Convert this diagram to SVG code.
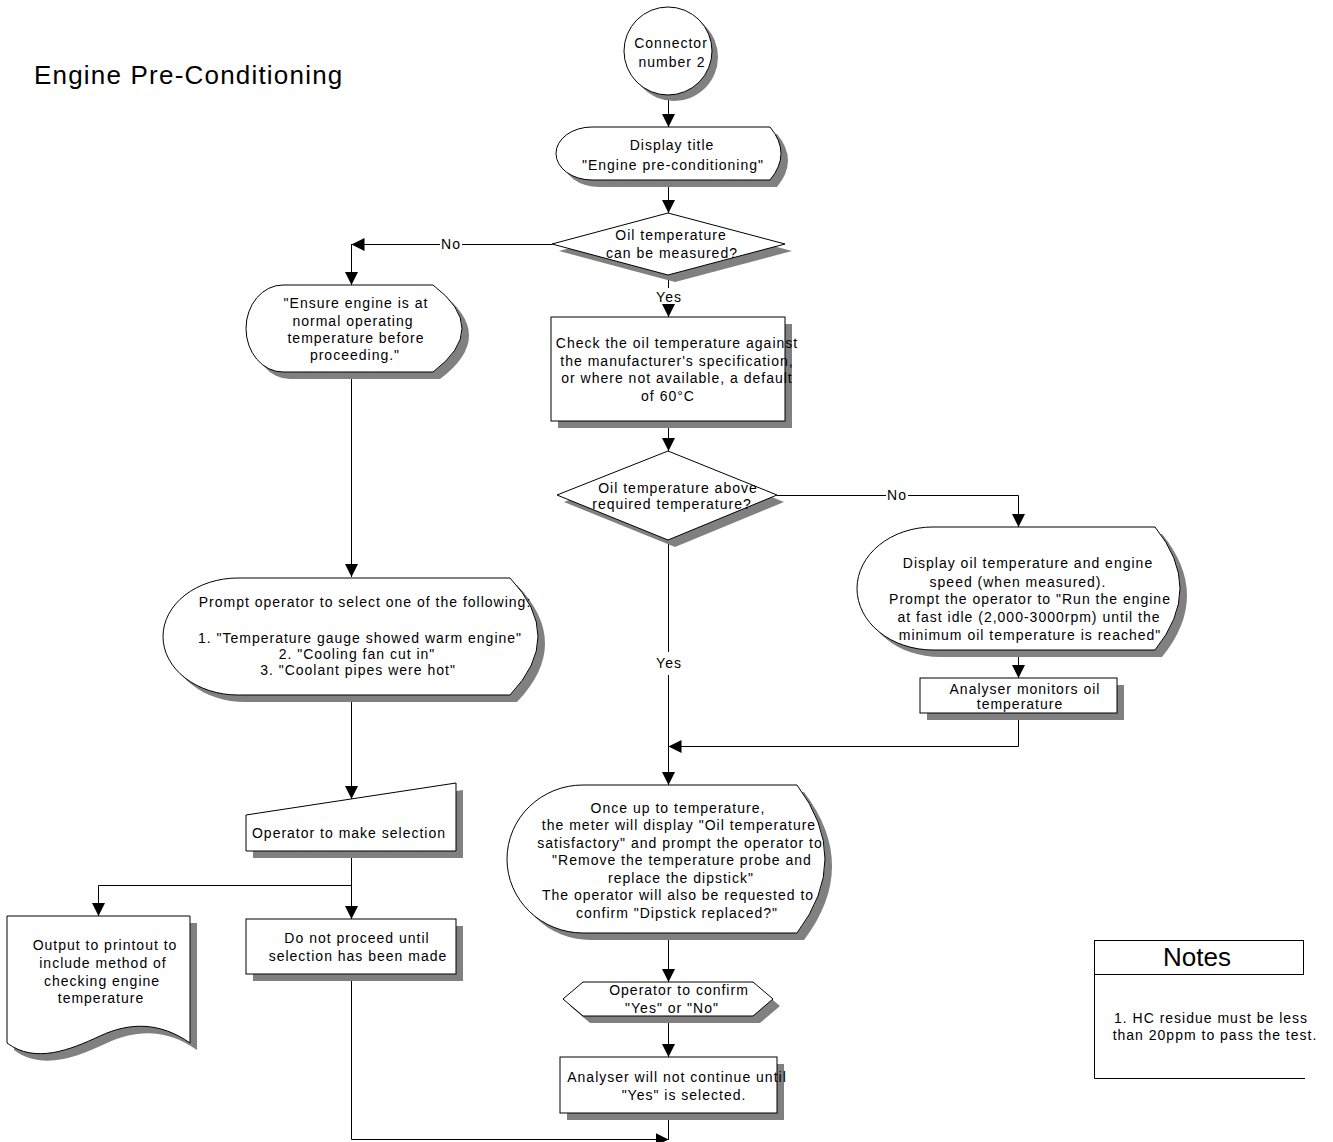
<svg xmlns="http://www.w3.org/2000/svg" xmlns:xlink="http://www.w3.org/1999/xlink" width="1333" height="1142" viewBox="0 0 1333 1142">
  <style>
    .shape { fill: #fff; stroke: #000; stroke-width: 1; }
    .shadow { fill: #808080; stroke: none; }
    .wire { fill: none; stroke: #000; stroke-width: 1; }
    .arrow { marker-end: url(#ah); }
    text { font-family: "Liberation Sans", Arial, sans-serif; font-size: 14px; letter-spacing: 1px; fill: #000; text-anchor: middle; }
    .title { font-size: 26px; letter-spacing: 1.2px; text-anchor: start; }
    .notes-h { font-size: 26px; letter-spacing: 0; }
  </style>
  <defs>
    <marker id="ah" markerWidth="13" markerHeight="13" refX="13" refY="6.5" orient="auto" markerUnits="userSpaceOnUse">
      <path d="M0,0 L13,6.5 L0,13 Z" fill="#000"/>
    </marker>
    <circle id="p-conn" cx="668" cy="51" r="44"/>
    <path id="p-title" d="M592,127 L770,127 Q792,153.5 770,180 L592,180 A36,26.5 0 0 1 592,127 Z"/>
    <path id="p-dec1" d="M668,213 L785,244 L668,275 L552,244 Z"/>
    <rect id="p-check" x="551" y="317" width="234" height="104"/>
    <path id="p-dec2" d="M668,451 L777,495 L668,540 L557,495 Z"/>
    <path id="p-dispoil" d="M933,527 L1155,527 Q1205,588.5 1155,650 L933,650 A76,61.5 0 0 1 933,527 Z"/>
    <rect id="p-monitor" x="920" y="678" width="197" height="35"/>
    <path id="p-once" d="M583,785 L797,785 Q853,859 797,933 L583,933 A76,74 0 0 1 583,785 Z"/>
    <path id="p-confirm" d="M583,982 L753,982 L773,999 L753,1016 L583,1016 L563,999 Z"/>
    <rect id="p-wait" x="560" y="1057" width="217" height="56"/>
    <path id="p-ensure" d="M283,285 L433,285 Q491,328.5 433,372 L283,372 A37,43.5 0 0 1 283,285 Z"/>
    <path id="p-prompt" d="M238,578 L510,578 Q566,636.5 510,695 L238,695 A75,58.5 0 0 1 238,578 Z"/>
    <path id="p-manual" d="M246,815 L456,783 L456,851 L246,851 Z"/>
    <rect id="p-noproceed" x="246" y="919" width="210" height="55"/>
    <path id="p-doc" d="M7,916 L190,916 L190,1043 C160,1022 130,1022 100,1036 C70,1050 35,1064 7,1043 Z"/>
  </defs>

  <rect width="1333" height="1142" fill="#fff"/>

  <text class="title" x="34" y="84">Engine Pre-Conditioning</text>

  <!-- connectors -->
  <g id="connectors">
    <path class="wire arrow" d="M668.5,95 L668.5,127"/>
    <path class="wire arrow" d="M668.5,180 L668.5,213"/>
    <path class="wire" d="M552,244.5 L462,244.5"/>
    <path class="wire arrow" d="M440,244.5 L351.5,244.5"/>
    <path class="wire arrow" d="M351.5,244 L351.5,285"/>
    <text x="451" y="249">No</text>
    <path class="wire" d="M668.5,275 L668.5,288"/>
    <text x="669" y="302">Yes</text>
    <path class="wire arrow" d="M668.5,304 L668.5,317"/>
    <path class="wire arrow" d="M668.5,421 L668.5,451"/>
    <path class="wire" d="M777,495.5 L886,495.5"/>
    <text x="897" y="500">No</text>
    <path class="wire arrow" d="M908,495.5 L1018.5,495.5 L1018.5,527"/>
    <path class="wire" d="M668.5,540 L668.5,652"/>
    <text x="669" y="668">Yes</text>
    <path class="wire arrow" d="M668.5,675 L668.5,785"/>
    <path class="wire arrow" d="M1018.5,650 L1018.5,678"/>
    <path class="wire arrow" d="M1018.5,713 L1018.5,746.5 L668.5,746.5"/>
    <path class="wire arrow" d="M668.5,933 L668.5,982"/>
    <path class="wire arrow" d="M668.5,1016 L668.5,1057"/>
    <path class="wire" d="M668.5,1113 L668.5,1140"/>
    <path class="wire arrow" d="M351.5,372 L351.5,577"/>
    <path class="wire arrow" d="M351.5,695 L351.5,799"/>
    <path class="wire arrow" d="M351.5,851 L351.5,919"/>
    <path class="wire arrow" d="M351.5,885.5 L98.5,885.5 L98.5,916"/>
    <path class="wire arrow" d="M351.5,974 L351.5,1139.5 L668.5,1139.5"/>
  </g>

  <g id="n-connector">
    <use xlink:href="#p-conn" class="shadow" transform="translate(6,6)"/>
    <use xlink:href="#p-conn" class="shape"/>
    <text x="671" y="48">Connector</text>
    <text x="672" y="67">number 2</text>
  </g>

  <g id="n-display-title">
    <use xlink:href="#p-title" class="shadow" transform="translate(7,7)"/>
    <use xlink:href="#p-title" class="shape"/>
    <text x="672" y="150">Display title</text>
    <text x="673" y="170">"Engine pre-conditioning"</text>
  </g>

  <g id="n-can-measure">
    <use xlink:href="#p-dec1" class="shadow" transform="translate(7,7)"/>
    <use xlink:href="#p-dec1" class="shape"/>
    <text x="671" y="240">Oil temperature</text>
    <text x="672" y="258">can be measured?</text>
  </g>

  <g id="n-check-temp">
    <use xlink:href="#p-check" class="shadow" transform="translate(7,7)"/>
    <use xlink:href="#p-check" class="shape"/>
    <text x="677" y="348">Check the oil temperature against</text>
    <text x="677" y="366">the manufacturer's specification,</text>
    <text x="677" y="383">or where not available, a default</text>
    <text x="668" y="401">of 60°C</text>
  </g>

  <g id="n-above-required">
    <use xlink:href="#p-dec2" class="shadow" transform="translate(7,7)"/>
    <use xlink:href="#p-dec2" class="shape"/>
    <text x="678" y="493">Oil temperature above</text>
    <text x="672" y="509">required temperature?</text>
  </g>

  <g id="n-display-oil">
    <use xlink:href="#p-dispoil" class="shadow" transform="translate(7,7)"/>
    <use xlink:href="#p-dispoil" class="shape"/>
    <text x="1028" y="568">Display oil temperature and engine</text>
    <text x="1018" y="587">speed (when measured).</text>
    <text x="1030" y="604">Prompt the operator to "Run the engine</text>
    <text x="1029" y="622">at fast idle  (2,000-3000rpm) until the</text>
    <text x="1030" y="640">minimum oil temperature is reached"</text>
  </g>

  <g id="n-monitor">
    <use xlink:href="#p-monitor" class="shadow" transform="translate(7,7)"/>
    <use xlink:href="#p-monitor" class="shape"/>
    <text x="1025" y="694">Analyser monitors oil</text>
    <text x="1020" y="709">temperature</text>
  </g>

  <g id="n-once-up">
    <use xlink:href="#p-once" class="shadow" transform="translate(7,7)"/>
    <use xlink:href="#p-once" class="shape"/>
    <text x="678" y="813">Once up to temperature,</text>
    <text x="679" y="830">the meter will display  "Oil temperature</text>
    <text x="680" y="848">satisfactory" and prompt the operator to</text>
    <text x="682" y="865">"Remove the temperature probe and</text>
    <text x="681" y="883">replace the dipstick"</text>
    <text x="678" y="900">The operator will also be requested to</text>
    <text x="677" y="918">confirm "Dipstick replaced?"</text>
  </g>

  <g id="n-confirm">
    <use xlink:href="#p-confirm" class="shadow" transform="translate(7,7)"/>
    <use xlink:href="#p-confirm" class="shape"/>
    <text x="679" y="995">Operator to confirm</text>
    <text x="672" y="1013">"Yes" or "No"</text>
  </g>

  <g id="n-wait-yes">
    <use xlink:href="#p-wait" class="shadow" transform="translate(7,7)"/>
    <use xlink:href="#p-wait" class="shape"/>
    <text x="677" y="1082">Analyser will not continue until</text>
    <text x="684" y="1100">"Yes" is selected.</text>
  </g>

  <g id="n-ensure">
    <use xlink:href="#p-ensure" class="shadow" transform="translate(7,7)"/>
    <use xlink:href="#p-ensure" class="shape"/>
    <text x="356" y="308">"Ensure engine is at</text>
    <text x="353" y="326">normal operating</text>
    <text x="356" y="343">temperature before</text>
    <text x="355" y="360">proceeding."</text>
  </g>

  <g id="n-prompt">
    <use xlink:href="#p-prompt" class="shadow" transform="translate(7,7)"/>
    <use xlink:href="#p-prompt" class="shape"/>
    <text x="365" y="607">Prompt operator to select one of the following:</text>
    <text x="360" y="643">1. "Temperature gauge showed warm engine"</text>
    <text x="357" y="659">2. "Cooling fan cut in"</text>
    <text x="358" y="675">3. "Coolant pipes were hot"</text>
  </g>

  <g id="n-make-selection">
    <use xlink:href="#p-manual" class="shadow" transform="translate(7,7)"/>
    <use xlink:href="#p-manual" class="shape"/>
    <text x="349" y="838">Operator to make selection</text>
  </g>

  <g id="n-no-proceed">
    <use xlink:href="#p-noproceed" class="shadow" transform="translate(7,7)"/>
    <use xlink:href="#p-noproceed" class="shape"/>
    <text x="357" y="943">Do not proceed until</text>
    <text x="358" y="961">selection has been made</text>
  </g>

  <g id="n-printout">
    <use xlink:href="#p-doc" class="shadow" transform="translate(7,7)"/>
    <use xlink:href="#p-doc" class="shape"/>
    <text x="105" y="950">Output to printout to</text>
    <text x="103" y="968">include method of</text>
    <text x="102" y="986">checking engine</text>
    <text x="101" y="1003">temperature</text>
  </g>

  <g id="n-notes">
    <rect class="shape" x="1094.5" y="940.5" width="209" height="34"/>
    <path class="wire" d="M1094.5,974 L1094.5,1078.5 L1305,1078.5"/>
    <text class="notes-h" x="1197" y="966">Notes</text>
    <text x="1211" y="1023">1. HC residue must be less</text>
    <text x="1215" y="1040">than 20ppm to pass the test.</text>
  </g>
</svg>
